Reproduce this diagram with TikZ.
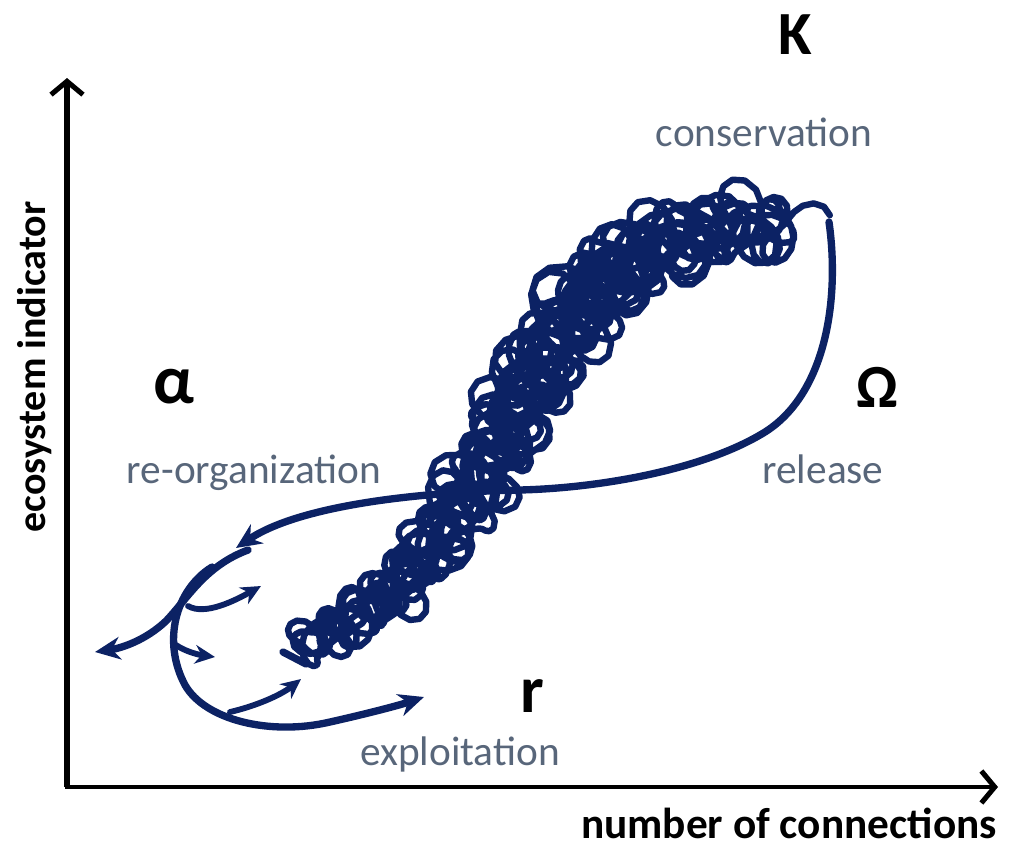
\documentclass[tikz,border=0pt]{standalone}
\usepackage{fontspec}
\setmainfont{Carlito}
\usetikzlibrary{arrows.meta}
\definecolor{navy}{RGB}{12,34,100}
\definecolor{slate}{RGB}{88,102,122}
\begin{document}
\begin{tikzpicture}[x=0.75pt,y=-0.75pt,
  declare function={
    bx(\u)=(1-\u)^3*305+3*(1-\u)^2*\u*560+3*(1-\u)*\u^2*480+\u^3*790;
    by(\u)=(1-\u)^3*645+3*(1-\u)^2*\u*540+3*(1-\u)*\u^2*205+\u^3*228;
    amp(\u)=25+22*sin(140*\u);
    ph(\t,\f)=360*mod(\f*\t,1);
  },
  axis/.style={draw=black,line width=4.4pt,-{Straight Barb[length=10pt,width=24pt,line width=3.8pt]}},
  curve/.style={draw=navy,line width=5.5pt,line cap=round,line join=round},
  minor/.style={draw=navy,line width=4.4pt,line cap=round},
  tip/.style={-{Stealth[length=19pt,width=17pt]}},
  smalltip/.style={-{Stealth[length=15pt,width=14pt]}},
  phase/.style={text=slate,font=\fontsize{31}{36}\selectfont,anchor=base,inner sep=0pt},
  axlabel/.style={text=black,font=\bfseries\fontsize{30}{36}\selectfont,anchor=base,inner sep=0pt},
  greek/.style={text=black,font=\bfseries\fontsize{46}{52}\selectfont,anchor=base,inner sep=0pt}
]
\useasboundingbox (0,0) rectangle (1010,850);

% axes
\coordinate (origin) at (67,787);
\coordinate (ytop) at (67,78);
\coordinate (xend) at (998,787);
\draw[axis] (origin) -- (ytop);
\draw[axis,line width=3.6pt] ([xshift=-1.65pt]origin) -- (xend);

\node[axlabel,rotate=90] (ylab) at (45,367) {ecosystem indicator};
\node[axlabel,font=\bfseries\fontsize{32.5}{38}\selectfont] (xlab) at (789,838) {number of connections};

% phase labels
\node[greek] (K) at (795,54) {K};
\node[greek,font=\bfseries\fontsize{52}{58}\selectfont] (alpha) at (174,403) {α};
\node[greek] (omega) at (877,407) {Ω};
\node[greek,font=\bfseries\fontsize{50}{56}\selectfont] (r) at (532,712) {r};

\node[phase] (cons) at (764,146) {conservation};
\node[phase] (reorg) at (254,483) {re-organization};
\node[phase] (rel) at (823,483) {release};
\node[phase] (expl) at (460,765) {exploitation};

% scribble (exploitation -> conservation)
\draw[curve,line width=4.8pt] plot[variable=\t,domain=0:110,samples=1981]
  ({bx(\t/110)+amp(\t/110)*(1+0.22*sin(ph(\t,0.137)))*(0.55*cos(ph(\t,1))+0.3*cos(-ph(\t,0.61))+0.15*cos(ph(\t,2.3)))},
   {by(\t/110)+amp(\t/110)*(1+0.22*sin(ph(\t,0.137)))*(0.55*sin(ph(\t,1))+0.3*sin(-ph(\t,0.61))+0.15*sin(ph(\t,2.3)))});
\draw[curve] (283,652) -- (306,664);

% release loop -> re-organization
\coordinate (rs) at (829,222);
\coordinate (ro) at (236,548);
\draw[curve,tip] (rs) .. controls (840,300) and (826,398) .. (760,435)
  .. controls (700,470) and (600,488) .. (520,490)
  .. controls (420,492) and (300,505) .. (ro);

% outgoing paths
\coordinate (a0) at (248,550);
\coordinate (a1) at (95,652);
\draw[curve,tip] (a0) .. controls (205,566) and (188,598) .. (166,621)
  .. controls (146,640) and (122,648) .. (a1);

\coordinate (b0) at (212,567);
\coordinate (b1) at (424,697);
\draw[curve,tip] (b0) .. controls (175,590) and (162,642) .. (185,685)
  .. controls (205,720) and (270,736) .. (330,722)
  .. controls (370,713) and (400,705) .. (b1);

\coordinate (s1a) at (188,606);
\coordinate (s1b) at (261,586);
\draw[minor,smalltip] (s1a) .. controls (205,616) and (236,600) .. (s1b);
\coordinate (s2a) at (176,645);
\coordinate (s2b) at (215,657);
\draw[minor,smalltip] (s2a) .. controls (186,652) and (200,655) .. (s2b);
\coordinate (s3a) at (230,712);
\coordinate (s3b) at (301,679);
\draw[minor,smalltip] (s3a) .. controls (256,706) and (281,695) .. (s3b);
\end{tikzpicture}
\end{document}
